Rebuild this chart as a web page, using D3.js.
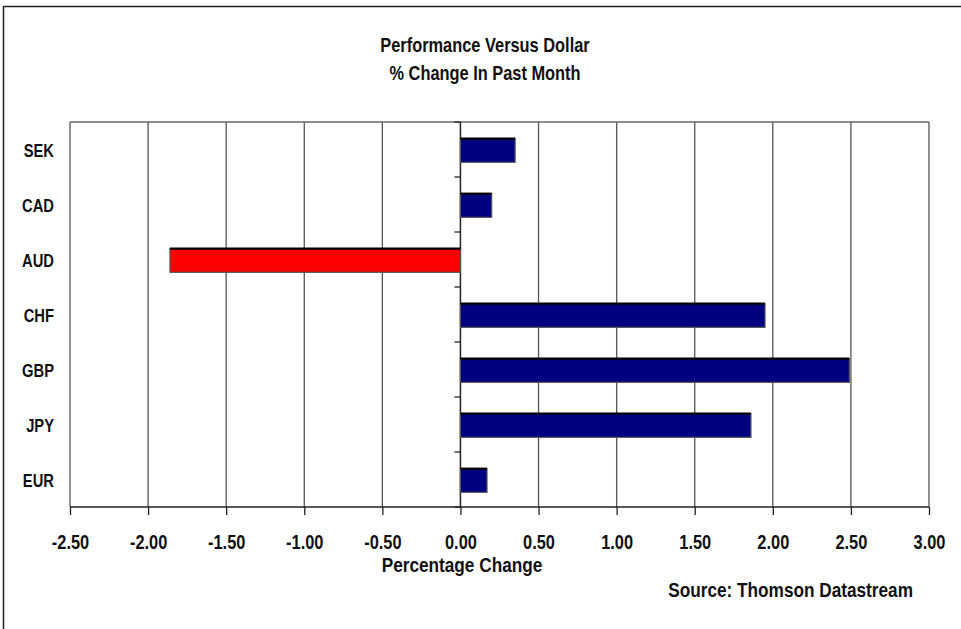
<!DOCTYPE html>
<html>
<head>
<meta charset="utf-8">
<script src="https://cdn.jsdelivr.net/npm/d3@7"></script>
<style>
    body { margin: 0; background: #fff; }
    text { font-family: "Liberation Sans", Arial, sans-serif; font-weight: bold; fill: #111; }
</style>
</head>
<body>
<script>
// chart data
const currencies = ["SEK", "CAD", "AUD", "CHF", "GBP", "JPY", "EUR"];
const changes = [0.35, 0.20, -1.86, 1.95, 2.49, 1.86, 0.17];
const xTicks = [-2.5, -2.0, -1.5, -1.0, -0.5, 0, 0.5, 1.0, 1.5, 2.0, 2.5, 3.0];

const width = 961;
const height = 629;

const plot = { left: 70, right: 929, top: 122, bottom: 507 };

// no narrow font installed, so squeeze the regular one
const squeeze = 0.82;

let svg = d3.select("body")
    .append("svg")
    .attr("width", width)
    .attr("height", height);

// text drawn condensed, placed with a transform
function addText(px, py, str, size, anchor) {
    return svg.append("text")
        .attr("transform", "translate(" + px + "," + py + ") scale(" + squeeze + ",1)")
        .attr("text-anchor", anchor)
        .style("font-size", size + "px")
        .text(str);
}

// outer frame (right and bottom run off the picture)
svg.append("rect")
    .attr("x", 3.5)
    .attr("y", 6.5)
    .attr("width", width + 10)
    .attr("height", height + 10)
    .attr("fill", "none")
    .attr("stroke", "#222")
    .attr("stroke-width", 1.5);

let x = d3.scaleLinear()
    .domain([-2.5, 3.0])
    .range([plot.left, plot.right]);

let y = d3.scaleBand()
    .domain(currencies)
    .range([plot.top, plot.bottom])
    .paddingInner(0.57)
    .paddingOuter(0.285);

let yOuter = d3.scaleBand()
    .domain(currencies)
    .range([plot.top, plot.bottom]);

// titles
addText(485, 52, "Performance Versus Dollar", 20, "middle");
addText(485, 80, "% Change In Past Month", 20, "middle");

// vertical gridlines
svg.selectAll(".grid")
    .data(xTicks)
    .enter()
    .append("line")
    .attr("class", "grid")
    .attr("x1", d => x(d))
    .attr("x2", d => x(d))
    .attr("y1", plot.top)
    .attr("y2", plot.bottom)
    .attr("stroke", "#555")
    .attr("stroke-width", 1.3);

// top border of plot
svg.append("line")
    .attr("x1", plot.left)
    .attr("x2", plot.right)
    .attr("y1", plot.top)
    .attr("y2", plot.top)
    .attr("stroke", "#666")
    .attr("stroke-width", 1.3);

// bottom axis
let xAxis = d3.axisBottom(x)
    .tickValues(xTicks)
    .tickSize(8)
    .tickPadding(20)
    .tickFormat(d => d.toFixed(2));

let gx = svg.append("g")
    .attr("transform", "translate(0," + plot.bottom + ")")
    .call(xAxis);
gx.select(".domain").attr("stroke", "#222").attr("stroke-width", 1.3).attr("d", "M" + plot.left + ",0H" + plot.right);
gx.selectAll(".tick line").attr("stroke", "#222").attr("stroke-width", 1.3);
gx.selectAll(".tick text")
    .attr("y", 0)
    .attr("dy", 0)
    .attr("transform", "translate(0,42) scale(" + squeeze + ",1)")
    .style("font-size", "20px")
    .attr("fill", "#111");

// zero axis with small ticks at band edges
svg.append("line")
    .attr("x1", x(0))
    .attr("x2", x(0))
    .attr("y1", plot.top)
    .attr("y2", plot.bottom)
    .attr("stroke", "#222")
    .attr("stroke-width", 1.3);

let bandEdges = currencies.map(c => yOuter(c)).concat([plot.bottom]);
svg.selectAll(".ytick")
    .data(bandEdges)
    .enter()
    .append("line")
    .attr("class", "ytick")
    .attr("x1", x(0) - 6)
    .attr("x2", x(0))
    .attr("y1", d => d)
    .attr("y2", d => d)
    .attr("stroke", "#222")
    .attr("stroke-width", 1.3);

// category labels
currencies.forEach(function (c) {
    addText(54, yOuter(c) + yOuter.bandwidth() / 2 + 7, c, 18, "end");
});

// bars
let bars = svg.selectAll(".bar")
    .data(currencies.map((c, i) => ({ name: c, value: changes[i] })))
    .enter()
    .append("g")
    .attr("class", "bar");

bars.append("rect")
    .attr("x", d => x(Math.min(0, d.value)))
    .attr("y", d => y(d.name) + 1)
    .attr("width", d => Math.abs(x(d.value) - x(0)))
    .attr("height", y.bandwidth())
    .attr("fill", d => d.value < 0 ? "#ff0000" : "#000080")
    .attr("stroke", "#555")
    .attr("stroke-width", 1.2);

// dark top edge
bars.append("line")
    .attr("x1", d => x(Math.min(0, d.value)))
    .attr("x2", d => x(Math.max(0, d.value)))
    .attr("y1", d => y(d.name) + 1)
    .attr("y2", d => y(d.name) + 1)
    .attr("stroke", "#000")
    .attr("stroke-width", 2.2);

// axis title and source
addText(462, 572, "Percentage Change", 21, "middle");
addText(913, 597, "Source: Thomson Datastream", 21, "end");
</script>
</body>
</html>
